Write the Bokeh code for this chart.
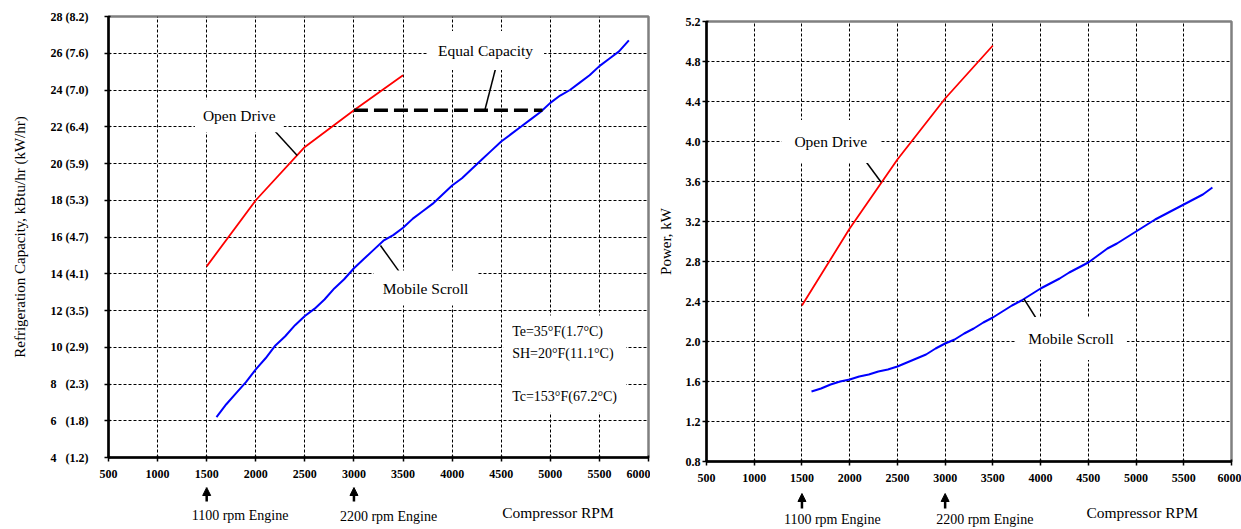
import numpy as np
from bokeh.plotting import figure
from bokeh.layouts import row, column
from bokeh.models import Label, Arrow, NormalHead, FixedTicker, Range1d, PrintfTickFormatter
from bokeh.embed import file_html
from bokeh.resources import INLINE

# ---------------- data ----------------
rpm_open = [1500, 2000, 2500, 3000, 3500]
cap_open = [14.4, 18.0, 20.9, 22.9, 24.8]
pow_open = [2.36, 3.13, 3.82, 4.43, 4.96]

rpm_scroll = [1600, 1700, 1800, 1900, 2000, 2100, 2200, 2300, 2400, 2500,
              2600, 2700, 2800, 2900, 3000, 3100, 3200, 3300, 3400, 3500,
              3600, 3700, 3800, 3900, 4000, 4100, 4200, 4300, 4400, 4500,
              4600, 4700, 4800, 4900, 5000, 5100, 5200, 5300, 5400, 5500,
              5600, 5700, 5800]
cap_scroll = [6.2, 6.9, 7.5, 8.1, 8.8, 9.4, 10.1, 10.6, 11.2, 11.7,
              12.1, 12.6, 13.2, 13.7, 14.3, 14.8, 15.3, 15.8, 16.1, 16.5,
              17.0, 17.4, 17.8, 18.3, 18.8, 19.2, 19.7, 20.2, 20.7, 21.2,
              21.6, 22.0, 22.4, 22.8, 23.3, 23.7, 24.0, 24.4, 24.8, 25.3,
              25.7, 26.1, 26.7]
pow_scroll = [1.50, 1.53, 1.57, 1.60, 1.62, 1.65, 1.67, 1.70, 1.72, 1.75,
              1.79, 1.83, 1.87, 1.93, 1.98, 2.02, 2.08, 2.13, 2.19, 2.24,
              2.30, 2.36, 2.41, 2.47, 2.53, 2.58, 2.63, 2.69, 2.74, 2.79,
              2.86, 2.93, 2.98, 3.04, 3.10, 3.16, 3.22, 3.27, 3.32, 3.37,
              3.42, 3.47, 3.54]

x_ticks = [500, 1000, 1500, 2000, 2500, 3000, 3500, 4000, 4500, 5000, 5500, 6000]
cap_ticks = [4, 6, 8, 10, 12, 14, 16, 18, 20, 22, 24, 26, 28]
cap_tick_labels = ["4\u00a0\u00a0\u00a0(1.2)", "6\u00a0\u00a0\u00a0(1.8)", "8\u00a0\u00a0\u00a0(2.3)",
                   "10 (2.9)", "12 (3.5)", "14 (4.1)", "16 (4.7)", "18 (5.3)",
                   "20 (5.9)", "22 (6.4)", "24 (7.0)", "26 (7.6)", "28 (8.2)"]
pow_ticks = [0.8, 1.2, 1.6, 2.0, 2.4, 2.8, 3.2, 3.6, 4.0, 4.4, 4.8, 5.2]

engine_rpm = [1500, 3000]
engine_text = ["1100 rpm Engine", "2200 rpm Engine"]

conditions_text = "Te=35\u00b0F(1.7\u00b0C)\nSH=20\u00b0F(11.1\u00b0C)\n\nTc=153\u00b0F(67.2\u00b0C)"

# equal capacity: open-drive capacity at 3000 rpm, reached by the scroll
eq_cap = cap_open[3]
eq_rpm_end = float(np.interp(eq_cap, cap_scroll, rpm_scroll))

SERIF = "Liberation Serif"
AXIS_BORDER = 30
LBL = "15.5px"


def style(p, yticks):
    p.xaxis.ticker = FixedTicker(ticks=x_ticks)
    p.yaxis.ticker = FixedTicker(ticks=yticks)
    p.xgrid.ticker = FixedTicker(ticks=x_ticks)
    p.ygrid.ticker = FixedTicker(ticks=yticks)
    p.grid.grid_line_color = "black"
    p.grid.grid_line_dash = "3 2"
    p.grid.grid_line_width = 1
    p.axis.axis_line_color = "black"
    p.axis.axis_line_width = 2.5
    p.axis.major_tick_line_color = "black"
    p.axis.major_tick_line_width = 1.5
    p.axis.major_tick_out = 4
    p.axis.major_tick_in = 2
    p.axis.minor_tick_line_color = None
    p.axis.major_label_text_font = SERIF
    p.axis.major_label_text_font_style = "bold"
    p.axis.major_label_text_font_size = "12px"
    p.axis.major_label_text_color = "black"
    p.axis.axis_label_text_font = SERIF
    p.axis.axis_label_text_font_style = "normal"
    p.axis.axis_label_text_font_size = "15px"
    p.axis.axis_label_text_color = "black"
    p.xaxis.major_label_standoff = 8
    p.outline_line_color = "#808080"
    p.outline_line_width = 2.5
    p.background_fill_color = "white"
    p.border_fill_color = "white"


def txt(p, x, y, text, size=LBL, align="center", baseline="middle", bg=None, pad=0,
        xo=0, yo=0, lh=1.2):
    kw = {}
    if bg:
        kw = dict(background_fill_color=bg, padding=pad)
    p.add_layout(Label(x=x, y=y, text=text, text_font=SERIF, text_font_size=size,
                       text_align=align, text_baseline=baseline, text_color="black",
                       x_offset=xo, y_offset=yo, text_line_height=lh, **kw))


def below_panel(main, height, border_left, border_right, width, text_pos, arrow_px, comp_x, comp_y):
    # strip under the x axis; y data = pixels below the axis line
    b = figure(width=width, height=height, output_backend="svg", toolbar_location=None,
               x_range=main.x_range, y_range=Range1d(AXIS_BORDER + height, AXIS_BORDER),
               min_border_left=border_left, min_border_right=border_right,
               min_border_top=0, min_border_bottom=0,
               x_axis_location=None, y_axis_location=None)
    b.grid.visible = False
    b.outline_line_color = None
    b.background_fill_color = "white"
    b.border_fill_color = "white"
    for r, t, (xo, yy) in zip(engine_rpm, engine_text, text_pos):
        txt(b, r, yy, t, size="14px", align="left", xo=xo)
        b.add_layout(Arrow(x_start=r, y_start=arrow_px[0], x_end=r, y_end=arrow_px[1],
                           line_width=2.5, line_color="black",
                           end=NormalHead(size=8, line_color="black", fill_color="black")))
    txt(b, comp_x, comp_y, "Compressor RPM")
    return b


# ---------------- left: capacity ----------------
p1 = figure(width=650, height=457 + AXIS_BORDER, output_backend="svg", toolbar_location=None,
            x_range=Range1d(500, 6000), y_range=Range1d(4, 28),
            min_border_left=108, min_border_right=2, min_border_top=16,
            min_border_bottom=AXIS_BORDER)
style(p1, cap_ticks)
p1.yaxis.major_label_overrides = {t: l for t, l in zip(cap_ticks, cap_tick_labels)}
p1.yaxis.major_label_standoff = 16
p1.yaxis.axis_label = "Refrigeration Capacity, kBtu/hr (kW/hr)"
p1.yaxis.axis_label_standoff = 20

p1.line(rpm_open, cap_open, line_color="#ff0000", line_width=1.8)
p1.line(rpm_scroll, cap_scroll, line_color="#0000ff", line_width=2)
p1.line([rpm_open[3], eq_rpm_end], [eq_cap, eq_cap], line_color="black", line_width=3.5,
        line_dash="14 6")

lead1_x = [[2143, 2422], [4459, 4333], [3270, 3457]]
lead1_y = [[22.07, 20.44], [25.51, eq_cap], [15.54, 14.14]]
p1.multi_line(lead1_x, lead1_y, line_color="black", line_width=1.5)

txt(p1, 1832, 22.6, "Open Drive", bg="white", pad=8)
txt(p1, 4340, 26.15, "Equal Capacity", bg="white", pad=11)
txt(p1, 3729, 13.22, "Mobile Scroll", bg="white", pad=9)
txt(p1, 4520, 11.73, conditions_text, size="14px", align="left", baseline="top",
    bg="white", pad=9, lh=1.43)

b1 = below_panel(p1, 529 - 457 - AXIS_BORDER, 108, 2, 650,
                 [(-15, 58), (-14, 59)], (44, 30), 5078, 55)

# ---------------- right: power ----------------
p2 = figure(width=591, height=461 + AXIS_BORDER, output_backend="svg", toolbar_location=None,
            x_range=Range1d(500, 6000), y_range=Range1d(0.8, 5.2),
            min_border_left=56, min_border_right=10, min_border_top=21,
            min_border_bottom=AXIS_BORDER)
style(p2, pow_ticks)
p2.yaxis.formatter = PrintfTickFormatter(format="%.1f")
p2.yaxis.major_label_standoff = 2
p2.yaxis.axis_label = "Power, kW"
p2.yaxis.axis_label_standoff = 9

p2.line(rpm_open, pow_open, line_color="#ff0000", line_width=1.8)
p2.line(rpm_scroll, pow_scroll, line_color="#0000ff", line_width=2)

lead2_x = [[2106, 2330], [3826, 4001]]
lead2_y = [[3.883, 3.593], [2.427, 2.16]]
p2.multi_line(lead2_x, lead2_y, line_color="black", line_width=1.5)

txt(p2, 1802, 4.0, "Open Drive", bg="white", pad=13)
txt(p2, 4319, 2.03, "Mobile Scroll", bg="white", pad=13)

b2 = below_panel(p2, 529 - 461 - AXIS_BORDER, 56, 10, 591,
                 [(-18, 58), (-9, 58)], (47, 32), 5064, 51)

layout = row(column(p1, b1), column(p2, b2))
open("out.html", "w").write(file_html(layout, INLINE))
